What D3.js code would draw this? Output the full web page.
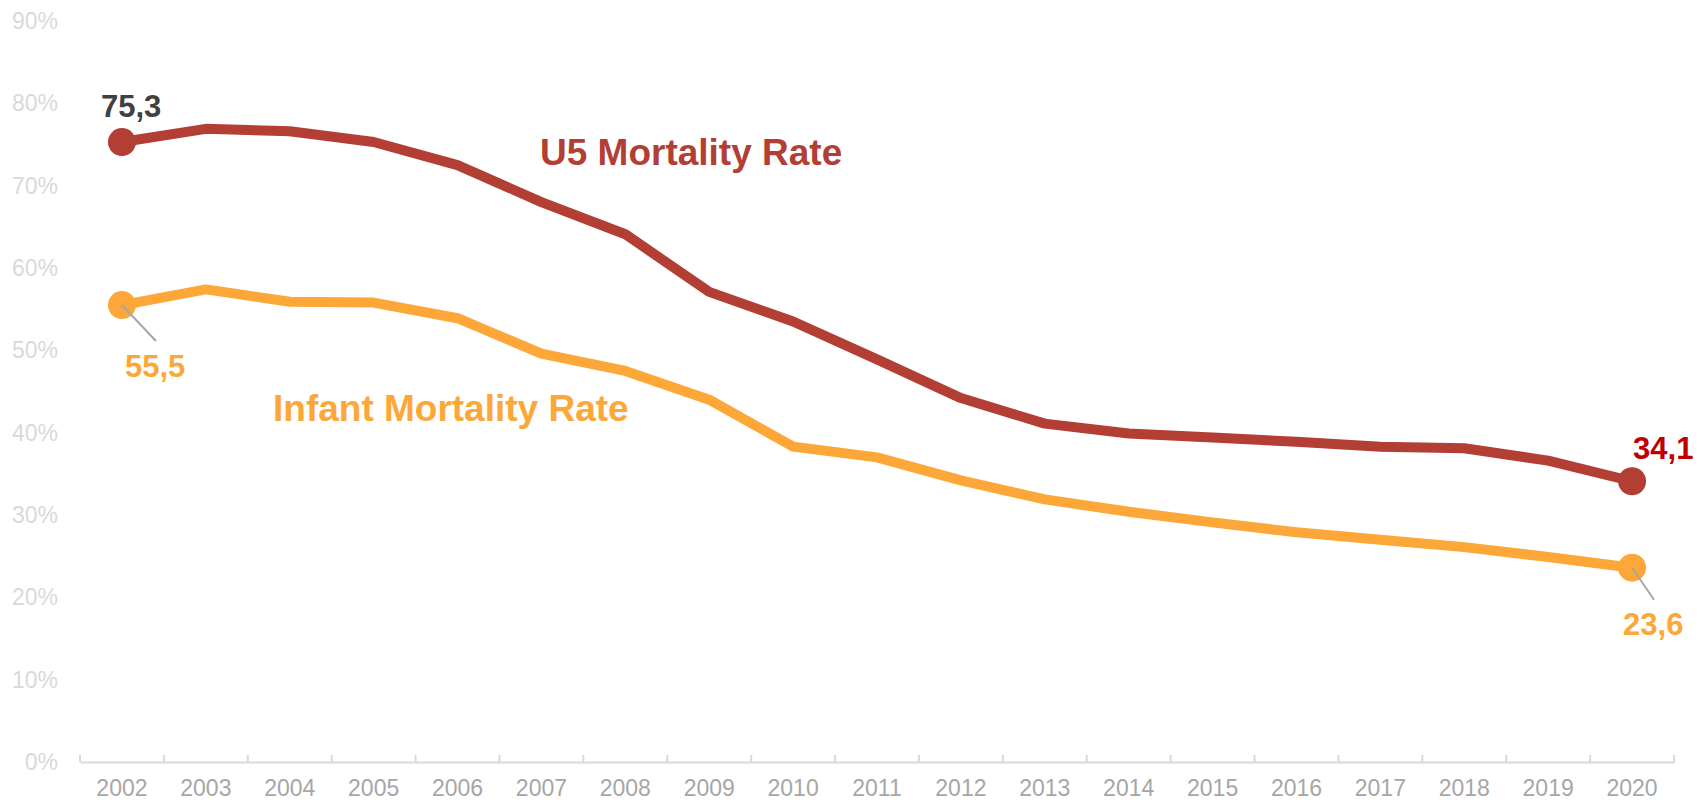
<!DOCTYPE html>
<html>
<head>
<meta charset="utf-8">
<script src="https://cdn.jsdelivr.net/npm/d3@7"></script>
<style>
  body { margin: 0; background: #fff; }
  svg { display: block; font-family: Arial, "Liberation Sans", sans-serif; }
</style>
</head>
<body>
<div id="chart"></div>
<script>
const years = ["2002","2003","2004","2005","2006","2007","2008","2009","2010","2011",
  "2012","2013","2014","2015","2016","2017","2018","2019","2020"]
const u5Rate = [75.3, 76.9, 76.6, 75.3, 72.5, 68.0, 64.1, 57.1, 53.5, 48.9,
  44.2, 41.1, 39.9, 39.4, 38.9, 38.3, 38.1, 36.6, 34.1]
const infantRate = [55.5, 57.4, 55.9, 55.8, 53.9, 49.6, 47.5, 44.0, 38.3, 37.0,
  34.2, 31.9, 30.4, 29.1, 27.9, 27.0, 26.1, 24.9, 23.6]
const yTicks = [0, 10, 20, 30, 40, 50, 60, 70, 80, 90]

const width = 1706, height = 802
const u5Color = "#b23e34", infColor = "#fca737"

const svg = d3.select("#chart").append("svg")
  .attr("width", width)
  .attr("height", height)

const x = d3.scaleBand().domain(years).range([80, 1674])
const y = d3.scaleLinear().domain([0, 90]).range([762, 21])
const cx = d => x(d) + x.bandwidth() / 2

// y labels
svg.append("g")
  .attr("transform", "translate(80,0)")
  .call(d3.axisLeft(y).tickValues(yTicks).tickSize(0).tickPadding(22).tickFormat(d => d + "%"))
  .call(g => g.select(".domain").remove())
  .selectAll("text")
    .attr("fill", "#d9d9d9")
    .style("font-size", "23px")
    .style("font-family", "Arial, 'Liberation Sans', sans-serif")

// x axis
const xAxis = svg.append("g").attr("transform", "translate(0,762)")
xAxis.call(d3.axisBottom(x).tickSize(0).tickPadding(18))
  .call(g => g.select(".domain").attr("stroke", "#d9d9d9").attr("stroke-width", 2))
  .selectAll("text")
    .attr("fill", "#a6a6a6")
    .style("font-size", "23px")
    .style("font-family", "Arial, 'Liberation Sans', sans-serif")

const bounds = years.map(d => x(d)).concat([x(years[years.length - 1]) + x.bandwidth()])
xAxis.selectAll("line.bound")
  .data(bounds)
  .join("line")
    .attr("class", "bound")
    .attr("x1", d => d).attr("x2", d => d)
    .attr("y1", 0).attr("y2", -7)
    .attr("stroke", "#d9d9d9")
    .attr("stroke-width", 2)

const line = d3.line()
  .x((d, i) => cx(years[i]))
  .y(d => y(d))

function drawSeries(values, color) {
  svg.append("path")
    .datum(values)
    .attr("fill", "none")
    .attr("stroke", color)
    .attr("stroke-width", 10)
    .attr("stroke-linejoin", "round")
    .attr("d", line)
  const ends = [0, values.length - 1]
  svg.selectAll(null)
    .data(ends)
    .join("circle")
      .attr("cx", i => cx(years[i]))
      .attr("cy", i => y(values[i]))
      .attr("r", 14)
      .attr("fill", color)
}

drawSeries(infantRate, infColor)
drawSeries(u5Rate, u5Color)

const fmt = v => d3.format(".1f")(v).replace(".", ",")

// leader lines for infant labels
const leaders = [
  {i: 0, dx: 34, dy: 36},
  {i: years.length - 1, dx: 22, dy: 32}
]
svg.selectAll("line.leader")
  .data(leaders)
  .join("line")
    .attr("class", "leader")
    .attr("x1", d => cx(years[d.i]))
    .attr("y1", d => y(infantRate[d.i]))
    .attr("x2", d => cx(years[d.i]) + d.dx)
    .attr("y2", d => y(infantRate[d.i]) + d.dy)
    .attr("stroke", "#a6a6a6")
    .attr("stroke-width", 2)

const valueLabels = [
  {text: fmt(u5Rate[0]), x: cx(years[0]) - 21, y: y(u5Rate[0]) - 25, color: "#404040"},
  {text: fmt(u5Rate[18]), x: cx(years[18]) + 1, y: y(u5Rate[18]) - 22, color: "#c00000"},
  {text: fmt(infantRate[0]), x: cx(years[0]) + 3, y: y(infantRate[0]) + 72, color: infColor},
  {text: fmt(infantRate[18]), x: cx(years[18]) - 9, y: y(infantRate[18]) + 67, color: infColor}
]
svg.selectAll("text.vlabel")
  .data(valueLabels)
  .join("text")
    .attr("class", "vlabel")
    .attr("x", d => d.x)
    .attr("y", d => d.y)
    .attr("fill", d => d.color)
    .style("font-size", "31px")
    .style("font-weight", "bold")
    .text(d => d.text)

// series names
svg.append("text")
  .attr("x", 540).attr("y", 165)
  .attr("fill", u5Color)
  .style("font-size", "37px").style("font-weight", "bold")
  .text("U5 Mortality Rate")
svg.append("text")
  .attr("x", 273).attr("y", 421)
  .attr("fill", infColor)
  .style("font-size", "37px").style("font-weight", "bold")
  .text("Infant Mortality Rate")
</script>
</body>
</html>
